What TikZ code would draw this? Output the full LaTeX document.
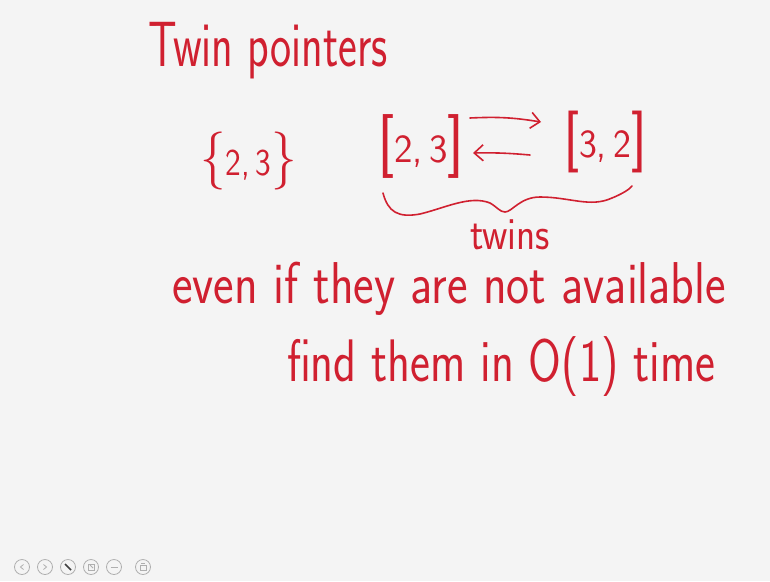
\documentclass[tikz,border=0pt]{standalone}
\usepackage{fontspec}
\usetikzlibrary{arrows.meta}
\definecolor{ink}{RGB}{208,32,48}
\definecolor{paper}{RGB}{244,244,244}
\definecolor{icon}{RGB}{175,175,175}
\tikzset{
  hand/.style={text=ink, font=\sffamily, inner sep=0pt, outer sep=0pt},
  pen/.style={draw=ink, line width=1.6pt, line cap=round, line join=round},
  barb/.style={-{Straight Barb[length=9pt,width=16pt,line width=1.6pt]}},
  iconring/.style={circle, draw=icon, line width=0.8pt, minimum size=15pt, inner sep=0pt}
}
\newcommand{\fs}[1]{\fontsize{#1}{#1}\selectfont}
\begin{document}
\begin{tikzpicture}[x=1pt,y=-1pt]
\useasboundingbox (0,0) rectangle (770,581);
\fill[paper] (0,0) rectangle (770,581);

% title
\node[hand, anchor=base west, xscale=0.70] (title) at (148,66) {\fs{64}Twin pointers};

% set {2,3}
\node[hand, anchor=base west, xscale=0.88] (set) at (200,175) {\fs{58}\{\fs{38}2,\,3\fs{58}\}};

% pairs
\node[hand, anchor=base west, xscale=0.98] (p23) at (377,162) {\fs{64}[\fs{40}2,\,3\fs{64}]};
\node[hand, anchor=base west, xscale=0.95] (p32) at (563,157) {\fs{62}[\fs{40}3,\,2\fs{62}]};

% arrows between twins
\coordinate (a1s) at (470,118);
\coordinate (a1e) at (541,122);
\coordinate (a2s) at (530,155);
\coordinate (a2e) at (473,153);
\draw[pen, barb] (a1s) to[bend left=6] (a1e);
\draw[pen, barb] (a2s) to[bend right=3] (a2e);

% underbrace
\coordinate (bl) at (383,193);
\coordinate (br) at (632,186);
\draw[pen] (bl) .. controls (388,212) and (398,218) .. (420,214)
  .. controls (445,208) and (470,195) .. (490,203)
  .. controls (497,207) and (500,212) .. (505,212)
  .. controls (512,212) and (520,197) .. (540,197)
  .. controls (570,197) and (590,208) .. (612,198)
  .. controls (622,194) and (630,189) .. (br);

\node[hand, anchor=base west, xscale=0.86] (twins) at (470,249) {\fs{46}twins};

\node[hand, anchor=base west, xscale=0.83] (line1) at (172,303) {\fs{59}even if they are not available};
\node[hand, anchor=base west, xscale=0.79] (line2) at (287,381) {\fs{60}find them in O(1) time};

% toolbar icons
\foreach \i/\x in {1/22,2/45,3/68,4/91,5/114,6/143}{
  \node[iconring] (ic\i) at (\x,567) {};
}
\draw[icon, line width=0.8pt] ([xshift=1.5pt,yshift=-2.5pt]ic1.center) -- ([xshift=-1.5pt]ic1.center) -- ([xshift=1.5pt,yshift=2.5pt]ic1.center);
\draw[icon, line width=0.8pt] ([xshift=-1.5pt,yshift=-2.5pt]ic2.center) -- ([xshift=1.5pt]ic2.center) -- ([xshift=-1.5pt,yshift=2.5pt]ic2.center);
\draw[black!75, line width=1.6pt] ([xshift=-3pt,yshift=3pt]ic3.center) -- ([xshift=3pt,yshift=-3pt]ic3.center);
\draw[icon, line width=0.7pt] ([xshift=-3pt,yshift=-3pt]ic4.center) rectangle ([xshift=3pt,yshift=3pt]ic4.center);
\draw[icon, line width=0.9pt] ([xshift=-1pt,yshift=2pt]ic4.center) -- ([xshift=2pt,yshift=-1pt]ic4.center);
\draw[icon, line width=0.8pt] ([xshift=-3.5pt]ic5.center) -- ([xshift=3.5pt]ic5.center);
\draw[icon, line width=0.7pt] ([xshift=-3pt,yshift=-3pt]ic6.center) rectangle ([xshift=3pt,yshift=2pt]ic6.center);
\draw[icon, line width=0.7pt] ([xshift=-2pt,yshift=3.5pt]ic6.center) -- ([xshift=2pt,yshift=3.5pt]ic6.center);
\end{tikzpicture}
\end{document}
